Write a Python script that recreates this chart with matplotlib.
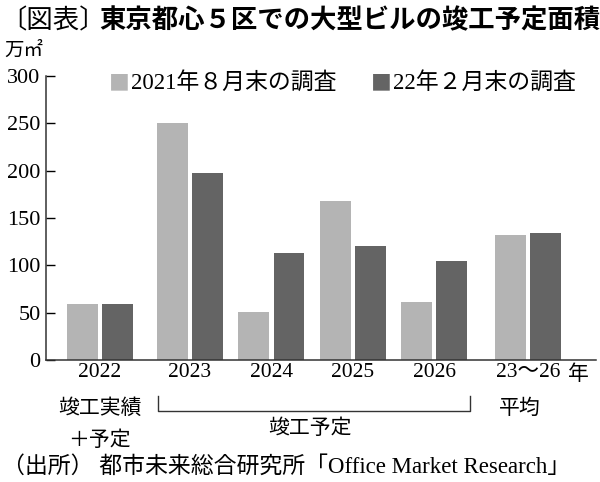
import matplotlib.pyplot as plt
import matplotlib.transforms as mtransforms

# data (万㎡)
categories = ['2022', '2023', '2024', '2025', '2026', '23～26']
sub_labels = ['竣工実績', '', '', '', '', '平均']
survey_2021 = [59, 251, 51, 168, 61, 132]
survey_2022 = [59, 198, 113, 121, 105, 134]
legend_labels = ['2021年８月末の調査', '22年２月末の調査']

# layout
x_pos = [-0.11, 1, 2, 3, 4, 5.15]
width = 0.38
off = 0.215
c_light = '#b4b4b4'
c_dark = '#646464'
num_font = ['Liberation Serif', 'Noto Sans CJK JP']
jp_font = ['Noto Sans CJK JP', 'DejaVu Sans']

plt.rcParams['font.family'] = num_font

fig = plt.figure(figsize=(6, 4.82), dpi=100)
ax = fig.add_axes([0.0767, 0.253, 0.9163, 0.589])

ax.bar([x - off for x in x_pos], survey_2021, width, color=c_light)
ax.bar([x + off for x in x_pos], survey_2022, width, color=c_dark)

ax.set_xlim(-0.767, 5.98)
ax.set_ylim(0, 300)
ax.set_yticks(range(0, 301, 50))
ax.tick_params(axis='y', direction='in', length=6.5, width=1, labelsize=16, pad=4)
ax.set_xticks(x_pos)
ax.set_xticklabels(categories, fontsize=15.5)
ax.tick_params(axis='x', length=0, pad=2)
for s in ['top', 'right']:
    ax.spines[s].set_visible(False)
for s in ['left', 'bottom']:
    ax.spines[s].set_linewidth(1.1)
    ax.spines[s].set_color('#333333')

trans = mtransforms.blended_transform_factory(ax.transData, ax.transAxes)
ax.text(5.77, -0.05, '年', transform=trans, ha='center', va='center',
        fontsize=15, family=jp_font)
ax.text(x_pos[0], -0.17, sub_labels[0], transform=trans, ha='center', va='center',
        fontsize=15, family=jp_font)
ax.text(x_pos[0], -0.28, '＋予定', transform=trans, ha='center', va='center',
        fontsize=15, family=jp_font)
ax.text(x_pos[5] - 0.1, -0.17, sub_labels[5], transform=trans, ha='center', va='center',
        fontsize=15, family=jp_font)

# bracket under 2023-2026
bx0, bx1 = 0.607, 4.436
ax.plot([bx0, bx0, bx1, bx1], [-0.127, -0.18, -0.18, -0.127], transform=trans,
        color='#333333', lw=1, clip_on=False)
ax.text((bx0 + bx1) / 2 - 0.05, -0.24, '竣工予定', transform=trans, ha='center',
        va='center', fontsize=15, family=jp_font)

# legend as text
fig.text(109 / 600, 1 - 83 / 482, '■', color=c_light, fontsize=15, va='center',
         family=jp_font)
fig.text(131 / 600, 1 - 83 / 482, legend_labels[0], fontsize=16.5, va='center')
fig.text(371 / 600, 1 - 83 / 482, '■', color=c_dark, fontsize=15, va='center',
         family=jp_font)
fig.text(393 / 600, 1 - 83 / 482, legend_labels[1], fontsize=16.5, va='center')

# title, unit, source
t1 = fig.text(0.0, 1 - 21 / 482, '〔図表〕', fontsize=19, va='center', family=jp_font)
fig.canvas.draw()
bb = t1.get_window_extent(renderer=fig.canvas.get_renderer())
fig.text(bb.x1 / 600 - 0.01, 1 - 21 / 482, '東京都心５区での大型ビルの竣工予定面積', fontsize=19,
         va='center', family=jp_font, fontweight='bold')
fig.text(0.008, 1 - 50 / 482, '万㎡', fontsize=14, va='center', family=jp_font)
fig.text(0.003, 1 - 467 / 482, '（出所） 都市未来総合研究所「Office Market Research」',
         fontsize=16.5, va='center')

fig.savefig('out.png', dpi=100)
